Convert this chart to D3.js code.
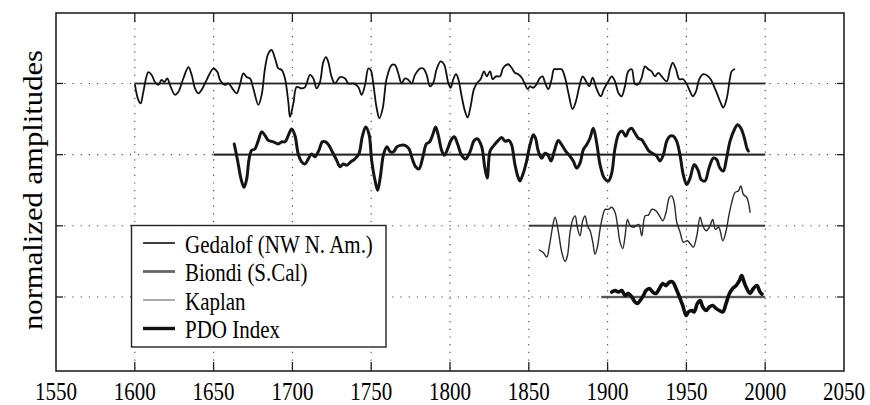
<!DOCTYPE html>
<html>
<head>
<meta charset="utf-8">
<script src="https://cdn.jsdelivr.net/npm/d3@7"></script>
<style>
  html, body { margin: 0; padding: 0; background: #fff; }
  svg { display: block; }
</style>
</head>
<body>
<svg id="chart" width="870" height="405"></svg>
<script>
// ---------------- DATA ----------------
const xTicks = [1550, 1600, 1650, 1700, 1750, 1800, 1850, 1900, 1950, 2000, 2050];
const yTicks = [1, 2, 3, 4];
const yLabel = "normalized amplitudes";

const seriesNames = ["Gedalof (NW N. Am.)", "Biondi (S.Cal)", "Kaplan", "PDO Index"];
const seriesOffsets = [4, 3, 2, 1];
const baselineStart = [1600, 1650, 1850, 1896];
const baselineEnd = [2000, 2000, 2000, 2000];

// [year, anomaly] pairs
const gedalof = [
  [1600.1,-0.02],[1602.2,-0.23],[1603.7,-0.28],[1605.4,-0.12],[1608.6,0.16],[1610.7,0.12],
  [1612.8,0.02],[1614.9,-0.02],[1617.0,0.05],[1618.7,0.02],[1620.6,0.07],[1622.3,-0.02],
  [1625.5,-0.16],[1627.6,-0.12],[1630.8,0.07],[1634.0,0.23],[1636.1,0.12],[1638.2,-0.07],
  [1640.3,-0.14],[1642.4,-0.09],[1645.6,0.05],[1649.8,0.21],[1652.4,0.16],[1654.1,0.05],
  [1657.2,-0.02],[1659.3,0.0],[1662.5,-0.09],[1664.6,-0.14],[1666.7,-0.02],[1668.9,0.14],
  [1671.0,0.09],[1673.1,0.07],[1675.2,-0.07],[1678.4,-0.30],[1680.5,-0.16],[1682.6,0.21],
  [1684.7,0.42],[1686.8,0.47],[1689.0,0.35],[1691.1,0.21],[1693.2,0.19],[1695.3,0.07],
  [1697.4,-0.26],[1698.5,-0.47],[1700.6,-0.28],[1702.7,-0.05],[1705.9,-0.07],[1708.0,-0.05],
  [1711.2,0.12],[1713.3,0.07],[1715.4,-0.07],[1717.5,0.02],[1719.6,0.30],[1721.3,0.37],
  [1722.8,0.30],[1724.9,0.09],[1727.0,0.0],[1730.2,0.09],[1733.4,0.07],[1735.5,0.0],
  [1738.7,0.0],[1741.8,-0.05],[1743.9,-0.16],[1746.1,-0.02],[1748.2,0.21],[1749.7,0.19],
  [1751.4,-0.02],[1753.5,-0.35],[1755.2,-0.49],[1757.3,-0.35],[1759.8,0.07],[1763.0,0.26],
  [1765.1,0.26],[1767.2,0.14],[1769.3,0.0],[1771.4,0.07],[1773.6,0.05],[1775.7,0.0],
  [1777.8,0.12],[1781.0,0.21],[1783.1,0.21],[1785.2,0.12],[1787.3,-0.04],[1789.4,0.01],
  [1791.5,0.20],[1794.1,0.31],[1796.2,0.27],[1798.9,0.01],[1800.4,-0.06],[1802.1,0.06],
  [1803.8,0.13],[1805.3,0.06],[1807.4,-0.18],[1809.5,-0.39],[1811.2,-0.48],[1813.1,-0.32],
  [1815.2,-0.08],[1817.3,0.01],[1819.4,0.06],[1821.6,0.17],[1823.3,0.10],[1825.4,0.17],
  [1827.1,0.06],[1829.2,0.10],[1831.7,0.10],[1833.8,0.22],[1837.0,0.27],[1839.1,0.22],
  [1841.2,0.15],[1843.3,0.13],[1845.5,0.08],[1847.6,-0.01],[1849.3,-0.08],[1850.8,-0.04],
  [1852.9,-0.06],[1855.0,-0.01],[1857.1,0.08],[1858.8,0.10],[1860.3,0.01],[1862.4,-0.08],
  [1864.5,0.06],[1866.0,0.20],[1867.7,0.20],[1870.8,0.20],[1873.0,0.08],[1875.1,-0.13],
  [1877.8,-0.36],[1879.9,-0.25],[1882.1,-0.04],[1884.2,0.10],[1886.3,0.03],[1888.4,-0.04],
  [1890.5,0.08],[1893.1,-0.08],[1895.6,-0.18],[1897.7,-0.08],[1900.5,0.03],[1902.6,0.10],
  [1904.7,0.03],[1906.8,-0.13],[1908.9,-0.18],[1911.0,-0.04],[1913.1,0.17],[1915.3,0.20],
  [1917.4,-0.01],[1919.5,-0.01],[1921.6,0.08],[1923.7,0.24],[1925.8,0.20],[1927.9,0.17],
  [1930.1,0.10],[1932.2,0.15],[1934.3,0.10],[1937.5,0.03],[1939.6,0.20],[1941.3,0.29],
  [1943.4,0.20],[1945.5,0.06],[1948.0,0.06],[1950.2,-0.01],[1952.3,-0.11],[1954.0,-0.18],
  [1956.1,-0.11],[1958.2,0.06],[1960.7,0.13],[1963.3,0.11],[1965.4,0.06],[1967.5,-0.04],
  [1969.6,-0.15],[1971.7,-0.27],[1973.4,-0.34],[1975.5,-0.22],[1977.7,0.08],[1978.7,0.17],
  [1980.4,0.20]
];

const biondi = [
  [1663.1,0.15],[1665.2,-0.08],[1667.4,-0.34],[1669.3,-0.46],[1671.0,-0.34],[1672.4,-0.08],
  [1674.1,0.06],[1676.2,0.08],[1678.4,0.20],[1680.5,0.32],[1682.6,0.27],[1684.7,0.20],
  [1687.9,0.18],[1691.0,0.15],[1693.2,0.18],[1695.3,0.18],[1697.4,0.27],[1699.5,0.36],
  [1701.6,0.27],[1703.7,0.01],[1705.8,-0.10],[1708.0,-0.13],[1710.1,-0.06],[1712.2,0.01],
  [1714.3,-0.03],[1716.8,0.06],[1719.0,0.18],[1721.1,0.18],[1723.2,0.13],[1725.3,0.04],
  [1728.1,-0.08],[1730.2,-0.17],[1732.3,-0.13],[1734.4,-0.15],[1737.1,-0.10],[1739.7,-0.06],
  [1742.2,0.01],[1744.3,0.25],[1746.5,0.39],[1748.6,0.29],[1750.3,-0.08],[1752.4,-0.36],
  [1754.1,-0.50],[1755.8,-0.31],[1757.9,0.01],[1760.0,0.11],[1762.1,0.04],[1764.2,0.04],
  [1766.3,0.11],[1768.5,0.13],[1771.4,0.13],[1774.0,0.08],[1776.1,-0.06],[1778.2,-0.17],
  [1780.3,-0.20],[1782.8,-0.03],[1785.0,0.15],[1787.1,0.18],[1789.2,0.29],[1790.9,0.39],
  [1792.6,0.27],[1794.7,0.06],[1796.4,-0.01],[1798.5,0.08],[1800.6,0.20],[1802.7,0.25],
  [1804.8,0.15],[1807.4,-0.01],[1809.9,-0.06],[1812.7,0.04],[1815.4,0.20],[1817.5,0.22],
  [1820.1,0.11],[1822.0,-0.17],[1823.6,-0.33],[1825.4,0.05],[1827.5,0.12],[1830.2,0.19],
  [1832.8,0.24],[1834.9,0.19],[1837.4,0.20],[1839.1,0.14],[1841.2,-0.14],[1843.4,-0.33],
  [1844.4,-0.37],[1846.5,-0.26],[1848.6,-0.09],[1850.8,0.14],[1852.9,0.28],[1854.3,0.23],
  [1856.0,0.05],[1858.2,-0.05],[1860.3,0.02],[1862.0,0.0],[1864.1,-0.09],[1866.2,0.05],
  [1868.7,0.20],[1870.8,0.14],[1873.4,0.05],[1876.1,-0.02],[1878.2,-0.09],[1880.4,-0.19],
  [1882.5,-0.12],[1884.6,0.07],[1886.7,0.14],[1888.8,0.23],[1890.9,0.37],[1893.1,0.16],
  [1895.2,-0.14],[1897.9,-0.33],[1900.5,-0.37],[1902.6,-0.26],[1904.7,0.09],[1907.2,0.30],
  [1909.3,0.33],[1911.5,0.26],[1913.6,0.35],[1915.3,0.37],[1917.4,0.30],[1919.5,0.23],
  [1921.6,0.21],[1923.7,0.14],[1926.3,0.05],[1928.4,0.02],[1931.1,-0.02],[1933.2,-0.09],
  [1935.4,0.0],[1937.5,0.19],[1939.6,0.26],[1941.7,0.26],[1943.8,0.19],[1945.9,0.0],
  [1948.0,-0.28],[1950.2,-0.42],[1952.3,-0.33],[1955.0,-0.14],[1957.6,-0.23],[1959.3,-0.35],
  [1961.8,-0.37],[1964.3,-0.19],[1967.1,-0.05],[1969.2,-0.07],[1971.3,-0.19],[1973.4,-0.23],
  [1975.5,-0.05],[1977.7,0.19],[1980.4,0.35],[1982.5,0.42],[1984.6,0.37],[1986.8,0.23],
  [1988.4,0.09],[1989.3,0.05]
];

const kaplan = [
  [1856.7,-0.34],[1859.3,-0.38],[1861.4,-0.44],[1863.1,-0.28],[1865.2,0.0],[1866.7,0.12],
  [1868.8,-0.09],[1870.9,-0.37],[1873.0,-0.50],[1874.5,-0.42],[1876.2,-0.09],[1877.9,0.09],
  [1879.4,0.14],[1880.8,-0.02],[1882.5,-0.14],[1884.2,0.07],[1885.7,0.14],[1887.2,0.0],
  [1888.9,-0.07],[1890.6,-0.23],[1892.0,-0.40],[1893.5,-0.30],[1895.2,-0.05],[1896.9,0.14],
  [1898.4,0.23],[1900.5,0.23],[1902.6,0.26],[1904.7,0.19],[1906.2,0.02],[1907.9,-0.23],
  [1909.6,-0.32],[1911.1,-0.14],[1912.6,0.09],[1914.3,0.0],[1916.4,-0.02],[1918.1,0.0],
  [1919.8,0.02],[1921.7,-0.14],[1923.8,0.14],[1925.9,0.15],[1928.0,0.23],[1930.7,0.21],
  [1932.9,0.14],[1935.0,0.07],[1937.1,0.19],[1939.2,0.40],[1940.7,0.42],[1942.2,0.33],
  [1943.9,0.05],[1946.0,-0.09],[1948.1,-0.23],[1950.6,-0.21],[1952.7,-0.26],[1954.4,-0.30],
  [1956.6,-0.14],[1958.7,0.12],[1960.4,0.0],[1962.5,-0.07],[1964.6,-0.02],[1966.7,0.09],
  [1968.4,-0.05],[1970.5,-0.02],[1973.1,-0.21],[1975.2,-0.07],[1976.9,0.14],[1978.8,0.33],
  [1980.9,0.47],[1983.0,0.49],[1984.5,0.56],[1986.2,0.44],[1988.3,0.40],[1990.4,0.19]
];

const pdo = [
  [1902.6,0.07],[1904.7,0.09],[1906.8,0.07],[1909.0,0.09],[1911.1,0.02],[1913.2,0.05],
  [1915.3,0.0],[1917.4,-0.07],[1918.9,-0.09],[1920.6,-0.05],[1922.7,0.02],[1924.4,0.09],
  [1926.5,0.12],[1928.6,0.07],[1930.7,0.05],[1932.9,0.12],[1935.0,0.19],[1937.1,0.16],
  [1939.2,0.21],[1941.3,0.21],[1943.4,0.12],[1945.6,0.0],[1947.7,-0.12],[1949.8,-0.26],
  [1951.3,-0.21],[1953.4,-0.19],[1954.9,-0.21],[1957.0,-0.09],[1958.7,-0.05],[1960.4,-0.14],
  [1962.5,-0.19],[1964.6,-0.14],[1966.7,-0.12],[1968.8,-0.16],[1970.9,-0.19],[1973.1,-0.21],
  [1975.2,-0.09],[1977.3,0.05],[1979.4,0.12],[1981.5,0.16],[1983.6,0.23],[1985.1,0.30],
  [1986.6,0.21],[1988.3,0.12],[1990.4,0.05],[1992.5,0.12],[1994.7,0.16],[1996.7,0.07],
  [1998.0,0.04]
];

const seriesData = [gedalof, biondi, kaplan, pdo];

// ---------------- STYLE ----------------
const seriesColor = ["#111", "#151515", "#2a2a2a", "#0d0d0d"];
const seriesWidth = [1.8, 3.0, 1.4, 3.6];
const legendColor = ["#111", "#666", "#888", "#111"];
const legendWidth = [1.6, 2.8, 1.4, 3.4];

const svg = d3.select("#chart");
const margin = {left: 56, top: 13, right: 26, bottom: 34};
const W = 870, H = 405;

const x = d3.scaleLinear().domain([1550, 2050]).range([margin.left, W - margin.right]);
const y = d3.scaleLinear().domain([-0.04, 4.99]).range([H - margin.bottom, margin.top]);

const serif = "'Liberation Serif', 'Times New Roman', serif";

// grid (dotted)
const grid = svg.append("g");
grid.selectAll("line.vg").data(xTicks.slice(1, -1)).join("line")
  .attr("x1", d => x(d)).attr("x2", d => x(d))
  .attr("y1", y.range()[1]).attr("y2", y.range()[0])
  .attr("stroke", "#444").attr("stroke-width", 1.1).attr("stroke-dasharray", "1.2,6.5");
grid.selectAll("line.hg").data(yTicks).join("line")
  .attr("x1", x.range()[0]).attr("x2", x.range()[1])
  .attr("y1", d => y(d)).attr("y2", d => y(d))
  .attr("stroke", "#444").attr("stroke-width", 1.1).attr("stroke-dasharray", "1.2,7");

// baselines
svg.append("g").selectAll("line").data(seriesOffsets).join("line")
  .attr("x1", (d, i) => x(baselineStart[i])).attr("x2", (d, i) => x(baselineEnd[i]))
  .attr("y1", d => y(d)).attr("y2", d => y(d))
  .attr("stroke", "#8a8a8a").attr("stroke-width", 2.6);
svg.append("g").selectAll("line").data(seriesOffsets).join("line")
  .attr("x1", (d, i) => x(baselineStart[i])).attr("x2", (d, i) => x(baselineEnd[i]))
  .attr("y1", d => y(d)).attr("y2", d => y(d))
  .attr("stroke", "#222").attr("stroke-width", 1.1);

// series
seriesData.forEach((data, i) => {
  const line = d3.line()
    .x(d => x(d[0]))
    .y(d => y(seriesOffsets[i] + d[1]))
    .curve(d3.curveCatmullRom.alpha(0.5));
  svg.append("path").datum(data)
    .attr("d", line)
    .attr("fill", "none")
    .attr("stroke", seriesColor[i])
    .attr("stroke-width", seriesWidth[i])
    .attr("stroke-linejoin", "round")
    .attr("stroke-linecap", "round");
});

// frame
svg.append("rect")
  .attr("x", x.range()[0]).attr("y", y.range()[1])
  .attr("width", x.range()[1] - x.range()[0]).attr("height", y.range()[0] - y.range()[1])
  .attr("fill", "none").attr("stroke", "#222").attr("stroke-width", 1.6);

// inward ticks
const tickLen = 9;
const ticks = svg.append("g").attr("stroke", "#222").attr("stroke-width", 1.3);
ticks.selectAll("line.xb").data(xTicks.slice(1, -1)).join("line")
  .attr("x1", d => x(d)).attr("x2", d => x(d))
  .attr("y1", y.range()[0]).attr("y2", y.range()[0] - tickLen);
ticks.selectAll("line.xt").data(xTicks.slice(1, -1)).join("line")
  .attr("x1", d => x(d)).attr("x2", d => x(d))
  .attr("y1", y.range()[1]).attr("y2", y.range()[1] + tickLen);
ticks.selectAll("line.yl").data(yTicks).join("line")
  .attr("x1", x.range()[0]).attr("x2", x.range()[0] + 7)
  .attr("y1", d => y(d)).attr("y2", d => y(d));
ticks.selectAll("line.yr").data(yTicks).join("line")
  .attr("x1", x.range()[1]).attr("x2", x.range()[1] - 7)
  .attr("y1", d => y(d)).attr("y2", d => y(d));

// x tick labels
svg.append("g").selectAll("text").data(xTicks).join("text")
  .attr("transform", d => `translate(${x(d)},400) scale(1,1.15)`)
  .attr("text-anchor", "middle")
  .attr("font-family", serif).attr("font-size", 21)
  .attr("fill", "#000")
  .text(d => d);

// y axis label
svg.append("text")
  .attr("transform", "translate(42,190) rotate(-90)")
  .attr("text-anchor", "middle")
  .attr("font-family", serif).attr("font-size", 27)
  .attr("textLength", 280).attr("lengthAdjust", "spacingAndGlyphs")
  .attr("fill", "#000")
  .text(yLabel);

// legend
const lg = svg.append("g");
lg.append("rect")
  .attr("x", 131.5).attr("y", 225.5).attr("width", 254.5).attr("height", 121.5)
  .attr("fill", "#fff").attr("stroke", "#222").attr("stroke-width", 1.4);
const rowY = [243, 271.5, 300, 328.5];
seriesNames.forEach((name, i) => {
  lg.append("line")
    .attr("x1", 143).attr("x2", 175)
    .attr("y1", rowY[i]).attr("y2", rowY[i])
    .attr("stroke", legendColor[i]).attr("stroke-width", legendWidth[i]);
  lg.append("text")
    .attr("transform", `translate(185,${rowY[i] + 9.5}) scale(1,1.18)`)
    .attr("font-family", serif).attr("font-size", 21)
    .attr("fill", "#000")
    .text(name);
});
</script>
</body>
</html>
